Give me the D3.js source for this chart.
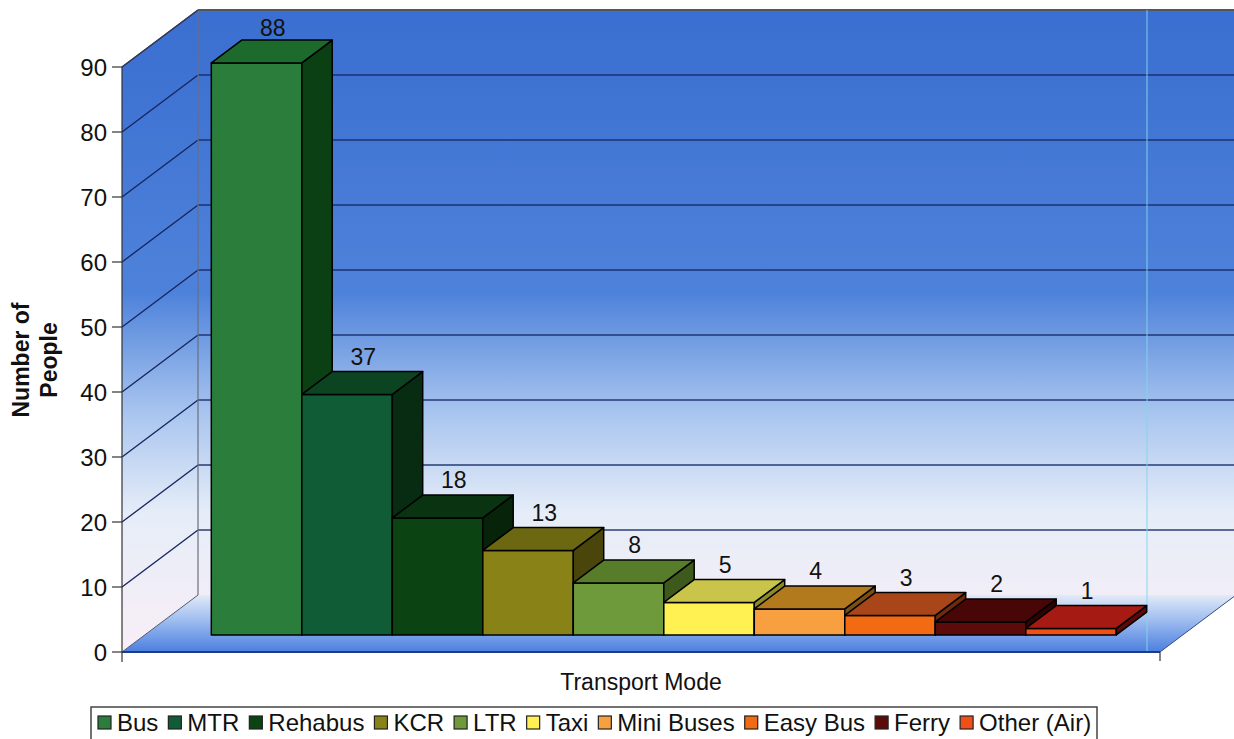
<!DOCTYPE html>
<html>
<head>
<meta charset="utf-8">
<script src="https://cdn.jsdelivr.net/npm/d3@7"></script>
<style>
  html, body { margin: 0; padding: 0; background: #ffffff; }
  svg { display: block; font-family: Arial, "Liberation Sans", sans-serif; }
</style>
</head>
<body>
<svg id="chart" width="1234" height="739"></svg>
<script>
// Survey: how many people use each transport mode
const categories = ["Bus", "MTR", "Rehabus", "KCR", "LTR", "Taxi", "Mini Buses", "Easy Bus", "Ferry", "Other (Air)"];
const values = [88, 37, 18, 13, 8, 5, 4, 3, 2, 1];
const yTicks = [0, 10, 20, 30, 40, 50, 60, 70, 80, 90];

// face colours per category: front, top, right side
const frontColors = ["#2b7d3c", "#105c37", "#0b4313", "#898216", "#6e9a3c", "#fff152", "#f8a040", "#f26a12", "#5c0a0a", "#f05018"];
const topColors   = ["#1d6a2d", "#0c4421", "#0a3311", "#6c6711", "#587d2a", "#c9c54a", "#b27a1c", "#a8461a", "#480606", "#a51a12"];
const sideColors  = ["#0b3f14", "#082c12", "#07240b", "#4a460b", "#3d5a1c", "#8c8a28", "#7a5010", "#70290b", "#300303", "#5e0808"];

const svg = d3.select("#chart");
const defs = svg.append("defs");

// 3D projection: depth d in [0,1] shifts points up and to the right
const DX = 76, DY = 57;
const x = d3.scaleBand().domain(categories).range([122, 1160]).paddingInner(0).paddingOuter(0.735);
const y = d3.scaleLinear().domain([0, 90]).range([652, 67]);
const P = (px, v, d) => [px + DX * d, y(v) - DY * d];
const poly = pts => "M" + pts.map(p => p.join(",")).join("L") + "Z";
const D0 = 0.3, D1 = 0.7;

// gradients for walls and floor
const wallGrad = defs.append("linearGradient").attr("id", "wallGrad")
  .attr("gradientUnits", "userSpaceOnUse").attr("x1", 0).attr("x2", 0).attr("y1", 10).attr("y2", 640);
[[0, "#3a6ed0"], [0.45, "#4e82da"], [0.64, "#a9c5ef"], [0.8, "#e6edf8"], [1, "#f7eef6"]]
  .forEach(([o, c]) => wallGrad.append("stop").attr("offset", o).attr("stop-color", c));

const floorGrad = defs.append("linearGradient").attr("id", "floorGrad")
  .attr("gradientUnits", "userSpaceOnUse").attr("x1", 0).attr("x2", 0).attr("y1", y(0) - DY).attr("y2", y(0));
[[0, "#e2eaf8"], [0.45, "#9dbcef"], [1, "#4b7fdf"]]
  .forEach(([o, c]) => floorGrad.append("stop").attr("offset", o).attr("stop-color", c));

const xMin = x.range()[0], xMax = x.range()[1];

// back wall
svg.append("path")
  .attr("d", poly([P(xMin, 0, 1), P(xMax, 0, 1), P(xMax, 90, 1), P(xMin, 90, 1)]))
  .attr("fill", "url(#wallGrad)");
// side wall
svg.append("path")
  .attr("d", poly([P(xMin, 0, 0), P(xMin, 0, 1), P(xMin, 90, 1), P(xMin, 90, 0)]))
  .attr("fill", "url(#wallGrad)");
// floor
svg.append("path")
  .attr("d", poly([P(xMin, 0, 0), P(xMax, 0, 0), P(xMax, 0, 1), P(xMin, 0, 1)]))
  .attr("fill", "url(#floorGrad)");

// gridlines on side wall and back wall
const grid = svg.append("g").attr("fill", "none");
yTicks.filter(t => t > 0).forEach(t => {
  const a = P(xMin, t, 0), b = P(xMin, t, 1), c = P(xMax, t, 1);
  grid.append("path").attr("d", `M${a}L${b}`).attr("stroke", "#15245e").attr("stroke-width", 1.3);
  if (t < 90) grid.append("path").attr("d", `M${b}L${c}`).attr("stroke", "#162a68").attr("stroke-width", 1.4).attr("stroke-opacity", 0.9);
});
// wall edges
grid.append("path").attr("d", `M${P(xMin, 90, 1)}L${P(xMax, 90, 1)}`).attr("stroke", "#505560").attr("stroke-width", 2);
grid.append("path").attr("d", `M${P(xMin, 0, 1)}L${P(xMin, 90, 1)}`).attr("stroke", "#6a6f80").attr("stroke-width", 1.2);
grid.append("path").attr("d", `M${P(xMin, 90, 0)}L${P(xMin, 90, 1)}`).attr("stroke", "#3a3f55").attr("stroke-width", 1.2);
grid.append("path").attr("d", `M${P(xMin, 0, 0)}L${P(xMin, 0, 1)}`).attr("stroke", "#555a70").attr("stroke-width", 1);
grid.append("path").attr("d", `M${P(xMax, 0, 0)}L${P(xMax, 0, 1)}`).attr("stroke", "#3a4a80").attr("stroke-width", 1);
// thin light vertical line on the back wall
grid.append("line").attr("x1", 1147).attr("x2", 1147).attr("y1", y(90) - DY).attr("y2", y(0))
  .attr("stroke", "#7fd6ea").attr("stroke-width", 1.2).attr("stroke-opacity", 0.8);
// floor front edge
grid.append("path").attr("d", `M${P(xMin, 0, 0)}L${P(xMax, 0, 0)}`).attr("stroke", "#1d3a8a").attr("stroke-width", 2);

// bars
const bars = svg.append("g").attr("stroke", "#000").attr("stroke-width", 1.5).attr("stroke-linejoin", "round");
categories.forEach((cat, i) => {
  const v = values[i];
  const x0 = x(cat), x1 = x0 + x.bandwidth();
  bars.append("path").attr("d", poly([P(x0, 0, D0), P(x1, 0, D0), P(x1, v, D0), P(x0, v, D0)])).attr("fill", frontColors[i]);
  bars.append("path").attr("d", poly([P(x1, 0, D0), P(x1, 0, D1), P(x1, v, D1), P(x1, v, D0)])).attr("fill", sideColors[i]);
  bars.append("path").attr("d", poly([P(x0, v, D0), P(x1, v, D0), P(x1, v, D1), P(x0, v, D1)])).attr("fill", topColors[i]);
});

// value labels
const labels = svg.append("g").attr("font-size", 23).attr("fill", "#111").attr("text-anchor", "middle");
categories.forEach((cat, i) => {
  const cx = x(cat) + x.bandwidth() / 2;
  const top = P(cx, values[i], D1);
  const mid = P(cx, values[i], 0.5);
  labels.append("text").attr("x", mid[0] + 1).attr("y", Math.max(top[1] - 7, 36)).text(values[i]);
});

// y axis
const yAxis = svg.append("g");
yAxis.append("line").attr("x1", 122).attr("x2", 122).attr("y1", y(90)).attr("y2", y(0) + 10).attr("stroke", "#333").attr("stroke-width", 1.2);
yTicks.forEach(t => {
  yAxis.append("line").attr("x1", 112).attr("x2", 122).attr("y1", y(t)).attr("y2", y(t)).attr("stroke", "#333").attr("stroke-width", 1.2);
  yAxis.append("text").attr("x", 107).attr("y", y(t)).attr("dy", "0.36em").attr("text-anchor", "end")
    .attr("font-size", 24).attr("fill", "#111").text(t);
});
// bottom-right tick
svg.append("line").attr("x1", xMax).attr("x2", xMax).attr("y1", y(0)).attr("y2", y(0) + 9).attr("stroke", "#333").attr("stroke-width", 1.2);

// axis titles
const yTitle = svg.append("text").attr("transform", "translate(36,360) rotate(-90)")
  .attr("text-anchor", "middle").attr("font-size", 23).attr("font-weight", "bold").attr("fill", "#111");
yTitle.append("tspan").attr("x", 0).attr("y", -7).text("Number of");
yTitle.append("tspan").attr("x", 0).attr("y", 21).text("People");

svg.append("text").attr("x", 641).attr("y", 690).attr("text-anchor", "middle")
  .attr("font-size", 23).attr("fill", "#111").text("Transport Mode");

// legend
const legend = svg.append("g");
legend.append("path").attr("d", "M91,745V707H1097V745").attr("fill", "#fff").attr("stroke", "#444").attr("stroke-width", 1.5);
let lx = 98;
categories.forEach((cat, i) => {
  legend.append("rect").attr("x", lx).attr("y", 716).attr("width", 13).attr("height", 13)
    .attr("fill", frontColors[i]).attr("stroke", "#222").attr("stroke-width", 1.2);
  const t = legend.append("text").attr("x", lx + 19).attr("y", 731).attr("font-size", 24).attr("fill", "#111").text(cat);
  lx += 19 + t.node().getComputedTextLength() + 10;
});
</script>
</body>
</html>
